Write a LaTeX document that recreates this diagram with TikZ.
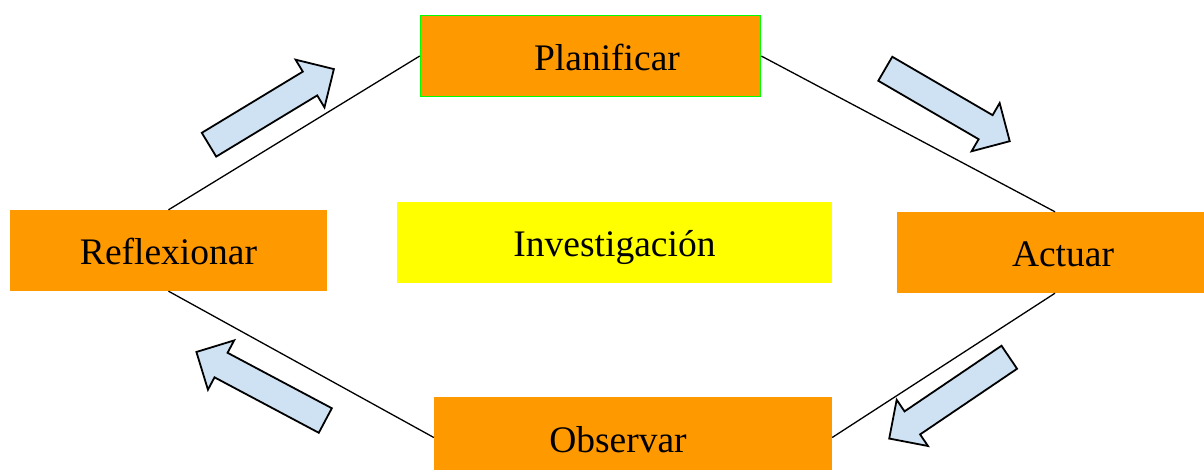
\documentclass[tikz,border=0pt]{standalone}
\usepackage{fontspec}
\setmainfont{Liberation Serif}
\usetikzlibrary{shapes.arrows}
\definecolor{boxorange}{HTML}{FF9900}
\definecolor{boxgreen}{HTML}{00FF00}
\definecolor{boxyellow}{HTML}{FFFF00}
\definecolor{arrowblue}{HTML}{CFE2F3}

\begin{document}
\begin{tikzpicture}[x=1pt, y=-1pt,
    stage/.style={rectangle, fill=boxorange, minimum height=81pt, inner sep=0pt,
        font=\fontsize{37.5}{40}\selectfont, text height=29pt, text depth=0pt},
    bigarrow/.style={single arrow, draw, line width=1.8pt, fill=arrowblue, inner xsep=0pt,
        inner ysep=13pt, minimum width=55pt, single arrow head extend=14pt}]
            \useasboundingbox (0,0) rectangle (1204,470);
            \node[stage, draw=boxgreen, line width=1.5pt, minimum width=340pt] (plan) at (590.5,56) {\hspace*{33pt}Planificar};
            \node[stage, minimum width=317pt] (refl) at (168.5,250.5) {Reflexionar};
            \node[stage, minimum width=316pt] (act) at (1055,252.5) {\hspace*{16pt}Actuar};
            \node[stage, minimum width=398pt] (obs) at (633,437.5) {Observar\hspace*{30pt}};
            \node[stage, fill=boxyellow, minimum width=435pt] (inv) at (614.5,242.5) {Investigación};
            \draw[line width=1.3pt] (refl.north) -- (plan.west);
            \draw[line width=1.3pt] (plan.east) -- (act.north);
            \draw[line width=1.3pt] (act.south) -- (obs.east);
            \draw[line width=1.3pt] (obs.west) -- (refl.south);
            \node[bigarrow, minimum height=146pt, rotate=31.2] (a1) at (265.5,110.5) {};
            \node[bigarrow, minimum height=144pt, rotate=-30.2] (a2) at (941.5,101.5) {};
            \node[bigarrow, minimum height=145pt, rotate=-145.9] (a3) at (955,394) {};
            \node[bigarrow, minimum height=146pt, rotate=152] (a4) at (267,389.5) {};
        \end{tikzpicture}
\end{document}
